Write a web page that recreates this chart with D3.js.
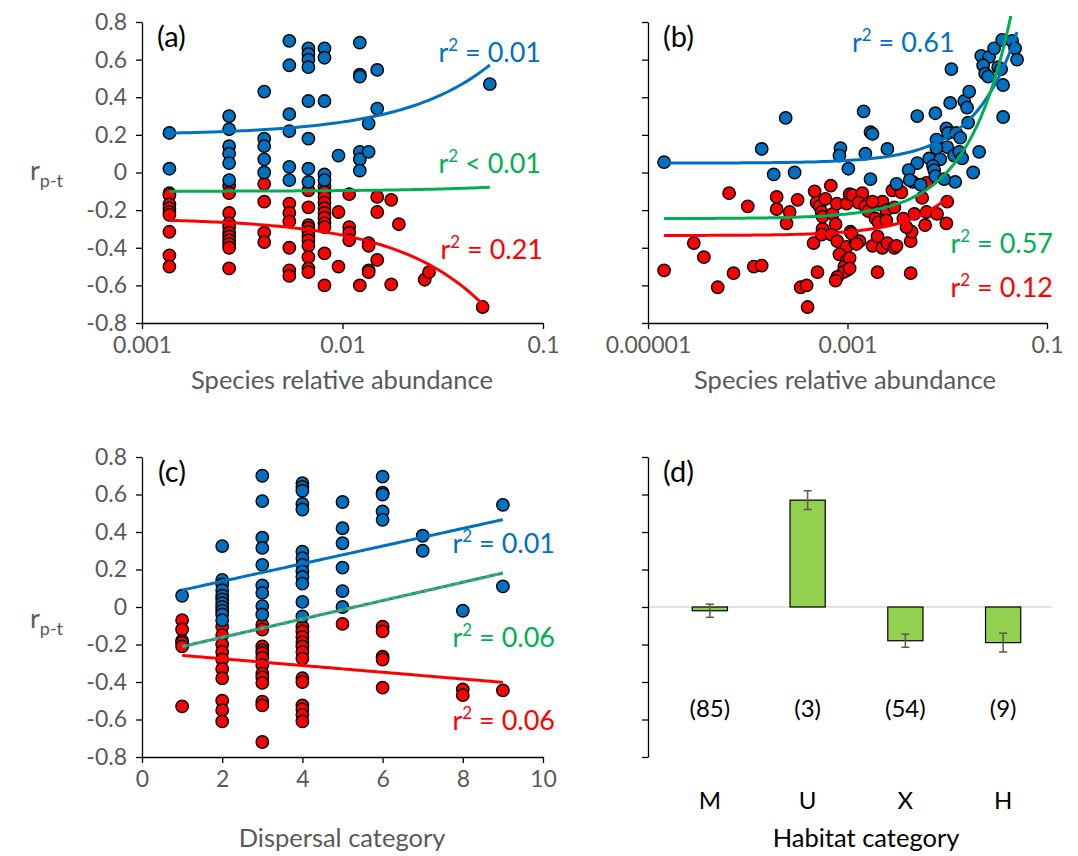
<!DOCTYPE html>
<html>
<head>
<meta charset="utf-8">
<script src="https://cdn.jsdelivr.net/npm/d3@7"></script>
<style>
body { margin: 0; background: #fff; }
text { font-family: Lato, "Open Sans", sans-serif; }
</style>
</head>
<body>
<div class="chart"></div>
<script>
var width = 1078;
var height = 856;
var blue = "#0070c0", red = "#ff0000", green = "#00b050", grey = "#595959";

// ---- data ----
var yTicks = [-0.8, -0.6, -0.4, -0.2, 0, 0.2, 0.4, 0.6, 0.8];

// (a) relative abundance (log) vs r
var aBlue = [[0.00137,0.21],[0.00137,0.02],
  [0.00272,0.30],[0.00272,0.23],[0.00272,0.14],[0.00272,0.10],[0.00272,0.05],[0.00272,-0.04],
  [0.00407,0.43],[0.00407,0.18],[0.00407,0.14],[0.00407,0.07],[0.00407,0.00],
  [0.00543,0.70],[0.00543,0.57],[0.00543,0.31],[0.00543,0.22],[0.00543,0.03],[0.00543,-0.04],
  [0.00676,0.66],[0.00676,0.63],[0.00676,0.60],[0.00676,0.56],[0.00676,0.38],[0.00676,0.18],[0.00676,0.02],[0.00676,-0.05],
  [0.00813,0.66],[0.00813,0.61],[0.00813,0.38],[0.00813,-0.01],[0.00813,-0.04],
  [0.00955,0.09],
  [0.0122,0.69],[0.0122,0.52],[0.0122,0.51],[0.0122,0.11],[0.0122,0.07],[0.0122,0.01],
  [0.0135,0.26],[0.0135,0.11],[0.0149,0.545],[0.0149,0.34],[0.0543,0.47]];
var aRed = [[0.00137,-0.11],[0.00137,-0.12],[0.00137,-0.17],[0.00137,-0.19],[0.00137,-0.21],[0.00137,-0.225],[0.00137,-0.315],[0.00137,-0.44],[0.00137,-0.50],
  [0.00272,-0.07],[0.00272,-0.11],[0.00272,-0.215],[0.00272,-0.27],[0.00272,-0.29],[0.00272,-0.32],[0.00272,-0.34],[0.00272,-0.36],[0.00272,-0.38],[0.00272,-0.40],[0.00272,-0.51],
  [0.00407,-0.06],[0.00407,-0.155],[0.00407,-0.32],[0.00407,-0.37],
  [0.00543,-0.165],[0.00543,-0.215],[0.00543,-0.26],[0.00543,-0.40],[0.00543,-0.52],[0.00543,-0.55],
  [0.00676,-0.095],[0.00676,-0.185],[0.00676,-0.28],[0.00676,-0.295],[0.00676,-0.315],[0.00676,-0.34],[0.00676,-0.36],[0.00676,-0.39],[0.00676,-0.45],[0.00676,-0.51],[0.00676,-0.53],
  [0.00813,-0.075],[0.00813,-0.105],[0.00813,-0.13],[0.00813,-0.16],[0.00813,-0.19],[0.00813,-0.215],[0.00813,-0.24],[0.00813,-0.27],[0.00813,-0.29],[0.00813,-0.43],[0.00813,-0.60],
  [0.00955,-0.21],[0.00955,-0.50],
  [0.0108,-0.115],[0.0108,-0.29],[0.0108,-0.32],[0.0108,-0.36],
  [0.0122,-0.60],
  [0.0135,-0.375],[0.0135,-0.39],[0.0135,-0.52],[0.0135,-0.53],
  [0.0149,-0.13],[0.0149,-0.21],[0.0149,-0.465],
  [0.0175,-0.145],[0.0175,-0.595],[0.0191,-0.275],[0.0257,-0.57],[0.027,-0.53],[0.050,-0.715]];
// trendlines: [intercept, slope, xFrom, xTo]
var aFits = {blue: [0.20, 6.84, 0.00137, 0.0543], green: [-0.10, 0.40, 0.00137, 0.0543], red: [-0.242, -9.16, 0.00137, 0.050]};
var aR2 = {blue: "= 0.01", green: "< 0.01", red: "= 0.21"};

// (b) relative abundance (log) vs r
var bBlue = [[1.45e-5,0.055],[1.38e-4,0.125],[2.40e-4,0.29],[1.82e-4,-0.01],[2.95e-4,0.0],
  [8.5e-4,0.13],[8.3e-4,0.09],[1.02e-3,0.02],[1.45e-3,0.325],[1.70e-3,0.215],[1.78e-3,0.205],
  [1.51e-3,0.10],[2.51e-3,0.125],[1.70e-3,-0.035],[5.0e-3,0.30],[7.6e-3,0.315],[1.10e-2,0.55],
  [1.07e-2,0.37],[1.48e-2,0.38],[1.66e-2,0.43],[1.58e-2,0.345],[2.19e-2,0.62],[2.63e-2,0.615],
  [2.29e-2,0.57],[2.40e-2,0.525],[2.57e-2,0.51],[2.95e-2,0.66],[3.55e-2,0.705],[4.47e-2,0.70],
  [4.79e-2,0.66],[5.01e-2,0.60],[3.24e-2,0.56],[3.47e-2,0.55],[3.63e-2,0.465],[3.63e-2,0.295],
  [1.62e-2,0.265],[9.8e-3,0.235],[1.02e-2,0.21],[1.23e-2,0.21],[1.35e-2,0.185],[7.8e-3,0.175],
  [1.0e-2,0.135],[7.8e-3,0.13],[2.09e-2,0.11],[1.17e-2,0.09],[1.32e-2,0.11],[1.41e-2,0.075],
  [6.6e-3,0.075],[8.5e-3,0.07],[5.0e-3,0.05],[7.2e-3,0.035],[7.4e-3,0.013],[4.1e-3,0.013],
  [7.6e-3,-0.02],[1.82e-2,0.0],[1.20e-2,-0.05],[4.5e-3,-0.05],[3.1e-3,-0.06],[4.2e-3,-0.04],
  [5.4e-3,-0.065],[9.3e-3,-0.035]];
var bRed = [[1.45e-5,-0.52],[2.88e-5,-0.375],[3.63e-5,-0.45],[6.5e-5,-0.11],[1.0e-4,-0.18],
  [5.0e-5,-0.61],[7.2e-5,-0.535],[1.15e-4,-0.50],[1.38e-4,-0.495],[1.95e-4,-0.13],[1.95e-4,-0.195],
  [2.63e-4,-0.21],[2.45e-4,-0.27],[3.16e-4,-0.145],[3.39e-4,-0.61],[3.89e-4,-0.60],[3.98e-4,-0.715],
  [4.57e-4,-0.375],[5.0e-4,-0.53],[4.68e-4,-0.10],[4.9e-4,-0.16],[5.25e-4,-0.18],[5.5e-4,-0.21],
  [5.62e-4,-0.235],[6.0e-4,-0.14],[6.8e-4,-0.07],[7.1e-4,-0.22],[7.8e-4,-0.165],[7.6e-4,-0.275],
  [9.8e-4,-0.165],[1.05e-3,-0.115],[1.12e-3,-0.12],[5.62e-4,-0.30],[5.5e-4,-0.33],[6.9e-4,-0.33],
  [7.9e-4,-0.365],[9.8e-4,-0.395],[1.07e-3,-0.315],[1.2e-3,-0.375],[8.3e-4,-0.435],[9.8e-4,-0.47],
  [9.3e-4,-0.50],[9.8e-4,-0.52],[9.1e-4,-0.53],[7.9e-4,-0.555],[7.6e-4,-0.575],[1.41e-3,-0.11],
  [1.29e-3,-0.16],[1.51e-3,-0.18],[1.62e-3,-0.205],[1.95e-3,-0.17],[2.24e-3,-0.155],[2.82e-3,-0.095],
  [3.47e-3,-0.105],[1.78e-3,-0.155],[2.45e-3,-0.20],[2.95e-3,-0.185],[1.91e-3,-0.245],[2.04e-3,-0.265],
  [2.45e-3,-0.255],[3.63e-3,-0.245],[4.68e-3,-0.22],[5.6e-3,-0.135],[6.2e-3,-0.21],[6.0e-3,-0.28],
  [7.9e-3,-0.22],[1.0e-2,-0.155],[9.8e-3,-0.27],[1.1e-3,-0.325],[1.32e-3,-0.365],[1.23e-3,-0.38],
  [1.78e-3,-0.39],[2.0e-3,-0.34],[2.24e-3,-0.40],[2.51e-3,-0.375],[2.95e-3,-0.40],[3.1e-3,-0.39],
  [4.3e-3,-0.365],[4.4e-3,-0.315],[3.9e-3,-0.29],[2.0e-3,-0.53],[4.3e-3,-0.535],[1.05e-3,-0.455],
  [1.05e-3,-0.51],[6.2e-3,-0.055]];
var bFits = {blue: [0.05, 13.9, 1.45e-5, 0.0501], green: [-0.245, 24.8, 1.45e-5, 0.0501], red: [-0.335, 20.0, 1.45e-5, 0.0105]};
var bR2 = {blue: "= 0.61", green: "= 0.57", red: "= 0.12"};

// (c) dispersal category vs r
var cBlue = [[1,0.06],
  [2,0.325],[2,0.145],[2,0.12],[2,0.09],[2,0.06],[2,0.04],[2,0.02],[2,0.0],[2,-0.02],[2,-0.04],[2,-0.07],
  [3,0.70],[3,0.565],[3,0.37],[3,0.315],[3,0.225],[3,0.115],[3,0.075],[3,0.005],[3,-0.04],
  [4,0.66],[4,0.64],[4,0.62],[4,0.55],[4,0.52],[4,0.295],[4,0.26],[4,0.225],[4,0.19],[4,0.16],[4,0.125],[4,0.027],[4,-0.05],
  [5,0.56],[5,0.42],[5,0.34],[5,0.21],[5,0.085],[5,0.0],
  [6,0.695],[6,0.61],[6,0.60],[6,0.51],[6,0.465],
  [7,0.38],[7,0.30],[8,-0.02],[9,0.545],[9,0.11]];
var cRed = [[1,-0.07],[1,-0.12],[1,-0.18],[1,-0.19],[1,-0.21],[1,-0.53],
  [2,-0.105],[2,-0.15],[2,-0.2],[2,-0.24],[2,-0.28],[2,-0.33],[2,-0.38],[2,-0.50],[2,-0.55],[2,-0.61],
  [3,-0.095],[3,-0.12],[3,-0.21],[3,-0.23],[3,-0.245],[3,-0.27],[3,-0.31],[3,-0.355],[3,-0.375],[3,-0.405],[3,-0.505],[3,-0.525],[3,-0.72],
  [4,-0.105],[4,-0.13],[4,-0.16],[4,-0.187],[4,-0.21],[4,-0.24],[4,-0.275],[4,-0.38],[4,-0.40],[4,-0.525],[4,-0.545],[4,-0.575],[4,-0.61],
  [5,-0.09],[6,-0.105],[6,-0.13],[6,-0.265],[6,-0.28],[6,-0.43],[8,-0.44],[8,-0.47],[9,-0.445]];
var cFits = {blue: [0.043, 0.047, 1, 9], green: [-0.26, 0.049, 1, 9], red: [-0.24, -0.018, 1, 9]};
var cR2 = {blue: "= 0.01", green: "= 0.06", red: "= 0.06"};

// (d) habitat category
var habitats = ["M", "U", "X", "H"];
var habitatMeans = [-0.02, 0.57, -0.18, -0.19];
var habitatErrors = [0.035, 0.05, 0.035, 0.05];
var habitatCounts = ["(85)", "(3)", "(54)", "(9)"];

// ---- drawing ----
function build_svg(c) {
    return c.append("svg").attr("width", width).attr("height", height);
}

function yFormat(d) { return d === 0 ? "0" : d.toFixed(1); }

function style_axis(g) {
    g.selectAll("path.domain").attr("stroke", "#000").attr("stroke-width", 1.3);
    g.selectAll(".tick line").attr("stroke", "#000").attr("stroke-width", 1.3);
    g.selectAll(".tick text").attr("fill", grey).style("font-size", "23px")
        .style("font-family", "Lato, 'Open Sans', sans-serif");
}

function build_yaxis(s, y, x0, labels) {
    var ax = d3.axisLeft(y).tickValues(yTicks).tickSize(6).tickSizeOuter(0).tickPadding(9)
        .tickFormat(labels ? yFormat : "");
    var g = s.append("g").attr("transform", "translate(" + x0 + ",0)").call(ax);
    style_axis(g);
}

function build_xaxis(s, x, y0, ticks, fmt) {
    var ax = d3.axisBottom(x).tickValues(ticks).tickSize(6).tickSizeOuter(0).tickPadding(8)
        .tickFormat(fmt);
    var g = s.append("g").attr("transform", "translate(0," + y0 + ")").call(ax);
    style_axis(g);
}

function build_points(s, data, x, y, fill) {
    s.append("g").selectAll("circle")
        .data(data)
        .enter().append("circle")
        .attr("cx", function(d) { return x(d[0]); })
        .attr("cy", function(d) { return y(d[1]); })
        .attr("r", 6.2)
        .attr("fill", fill)
        .attr("stroke", "#000")
        .attr("stroke-width", 1.4);
}

function fit_points(fit, isLog) {
    var pts = [];
    var n = 80;
    for (var i = 0; i <= n; i++) {
        var t = i / n, xv;
        if (isLog) xv = Math.exp(Math.log(fit[2]) + t * (Math.log(fit[3]) - Math.log(fit[2])));
        else xv = fit[2] + t * (fit[3] - fit[2]);
        pts.push([xv, fit[0] + fit[1] * xv]);
    }
    return pts;
}

function build_fit(s, fit, x, y, isLog, color, dash) {
    var line = d3.line().x(function(d) { return x(d[0]); }).y(function(d) { return y(d[1]); });
    var p = s.append("path").attr("d", line(fit_points(fit, isLog)))
        .attr("fill", "none").attr("stroke", color).attr("stroke-width", 3);
    if (dash) p.attr("stroke-dasharray", dash);
    return p;
}

function r2_label(s, x, y, color, rest, anchor) {
    var t = s.append("text").attr("x", x).attr("y", y).attr("fill", color)
        .attr("text-anchor", anchor || "end").style("font-size", "27px");
    t.append("tspan").text("r");
    t.append("tspan").attr("dy", -11).style("font-size", "17px").text("2");
    t.append("tspan").attr("dy", 11).text(" " + rest);
}

function ylabel(s, x, y) {
    var t = s.append("text").attr("x", x).attr("y", y).attr("fill", grey).style("font-size", "27px");
    t.append("tspan").text("r");
    t.append("tspan").attr("dy", 7).style("font-size", "18px").text("p-t");
}

function panel_label(s, x, y, txt) {
    s.append("text").attr("x", x).attr("y", y).attr("fill", "#000")
        .style("font-size", "29px").text(txt);
}

function axis_title(s, x, y, txt, color) {
    s.append("text").attr("x", x).attr("y", y).attr("text-anchor", "middle")
        .attr("fill", color || grey).style("font-size", "25.5px").text(txt);
}

function main() {
    var svg = build_svg(d3.select(".chart"));

    // panel (a)
    var xA = d3.scaleLog().domain([0.001, 0.1]).range([142, 543]);
    var yA = d3.scaleLinear().domain([-0.8, 0.8]).range([323, 22]);
    build_points(svg, aRed, xA, yA, red);
    build_points(svg, aBlue, xA, yA, blue);
    build_fit(svg, aFits.blue, xA, yA, true, blue);
    build_fit(svg, aFits.green, xA, yA, true, green);
    build_fit(svg, aFits.red, xA, yA, true, red);
    build_yaxis(svg, yA, 142, true);
    build_xaxis(svg, xA, 323, [0.001, 0.01, 0.1], function(d) { return d3.format("")(d); });
    r2_label(svg, 541, 62, blue, aR2.blue);
    r2_label(svg, 541, 173, green, aR2.green);
    r2_label(svg, 543, 259, red, aR2.red);
    panel_label(svg, 157, 47, "(a)");
    ylabel(svg, 30, 180);
    axis_title(svg, 342, 389, "Species relative abundance");

    // panel (b)
    var xB = d3.scaleLog().domain([1e-5, 0.1]).range([648, 1047]);
    var yB = d3.scaleLinear().domain([-0.8, 0.8]).range([323, 22]);
    build_points(svg, bRed, xB, yB, red);
    build_points(svg, bBlue, xB, yB, blue);
    svg.append("clipPath").attr("id", "clipB").append("rect")
        .attr("x", 648).attr("y", 16).attr("width", 420).attr("height", 310);
    var gb = svg.append("g").attr("clip-path", "url(#clipB)");
    build_fit(gb, bFits.blue, xB, yB, true, blue);
    build_fit(gb, bFits.green, xB, yB, true, green);
    build_fit(gb, bFits.red, xB, yB, true, red);
    build_yaxis(svg, yB, 648, false);
    build_xaxis(svg, xB, 323, [1e-5, 1e-3, 0.1], function(d) {
        return d === 1e-5 ? "0.00001" : d3.format("")(d);
    });
    r2_label(svg, 852, 52, blue, bR2.blue, "start");
    r2_label(svg, 1053, 253, green, bR2.green);
    r2_label(svg, 1053, 297, red, bR2.red);
    panel_label(svg, 663, 47, "(b)");
    axis_title(svg, 845, 389, "Species relative abundance");

    // panel (c)
    var xC = d3.scaleLinear().domain([0, 10]).range([142, 543]);
    var yC = d3.scaleLinear().domain([-0.8, 0.8]).range([757, 457]);
    build_points(svg, cRed, xC, yC, red);
    build_points(svg, cBlue, xC, yC, blue);
    build_fit(svg, cFits.blue, xC, yC, false, blue);
    build_fit(svg, cFits.green, xC, yC, false, green);
    build_fit(svg, cFits.green, xC, yC, false, "#6a8fae", "4,4");
    build_fit(svg, cFits.red, xC, yC, false, red);
    build_yaxis(svg, yC, 142, true);
    build_xaxis(svg, xC, 757, [0, 2, 4, 6, 8, 10], d3.format("d"));
    r2_label(svg, 555, 553, blue, cR2.blue);
    r2_label(svg, 555, 647, green, cR2.green);
    r2_label(svg, 555, 730, red, cR2.red);
    panel_label(svg, 158, 482, "(c)");
    ylabel(svg, 30, 628);
    axis_title(svg, 342, 847, "Dispersal category");

    // panel (d)
    var xD = d3.scaleBand().domain(habitats).range([661, 1052]).paddingInner(0.64).paddingOuter(0.32);
    var yD = d3.scaleLinear().domain([-0.8, 0.8]).range([757, 457]);
    svg.append("line").attr("x1", 648).attr("x2", 1052)
        .attr("y1", yD(0)).attr("y2", yD(0)).attr("stroke", "#d9d9d9").attr("stroke-width", 1.5);
    var hd = habitats.map(function(h, i) {
        return {cat: h, mean: habitatMeans[i], err: habitatErrors[i], n: habitatCounts[i]};
    });
    svg.selectAll(".bar").data(hd).enter().append("rect")
        .attr("class", "bar")
        .attr("x", function(d) { return xD(d.cat); })
        .attr("y", function(d) { return yD(Math.max(0, d.mean)); })
        .attr("width", xD.bandwidth())
        .attr("height", function(d) { return Math.abs(yD(d.mean) - yD(0)); })
        .attr("fill", "#92d050").attr("stroke", "#000").attr("stroke-width", 1.2);
    var eb = svg.append("g").attr("stroke", grey).attr("stroke-width", 1.5);
    hd.forEach(function(d) {
        var cx = xD(d.cat) + xD.bandwidth() / 2;
        eb.append("line").attr("x1", cx).attr("x2", cx)
            .attr("y1", yD(d.mean + d.err)).attr("y2", yD(d.mean - d.err));
        [d.mean + d.err, d.mean - d.err].forEach(function(v) {
            eb.append("line").attr("x1", cx - 4).attr("x2", cx + 4)
                .attr("y1", yD(v)).attr("y2", yD(v));
        });
    });
    svg.selectAll(".count").data(hd).enter().append("text")
        .attr("class", "count")
        .attr("x", function(d) { return xD(d.cat) + xD.bandwidth() / 2; })
        .attr("y", 717).attr("text-anchor", "middle").attr("fill", "#000")
        .style("font-size", "24px").text(function(d) { return d.n; });
    svg.selectAll(".cat").data(hd).enter().append("text")
        .attr("class", "cat")
        .attr("x", function(d) { return xD(d.cat) + xD.bandwidth() / 2; })
        .attr("y", 809).attr("text-anchor", "middle").attr("fill", "#000")
        .style("font-size", "24px").text(function(d) { return d.cat; });
    build_yaxis(svg, yD, 648, false);
    panel_label(svg, 663, 482, "(d)");
    axis_title(svg, 866, 847, "Habitat category", "#000");
}

main();
</script>
</body>
</html>
